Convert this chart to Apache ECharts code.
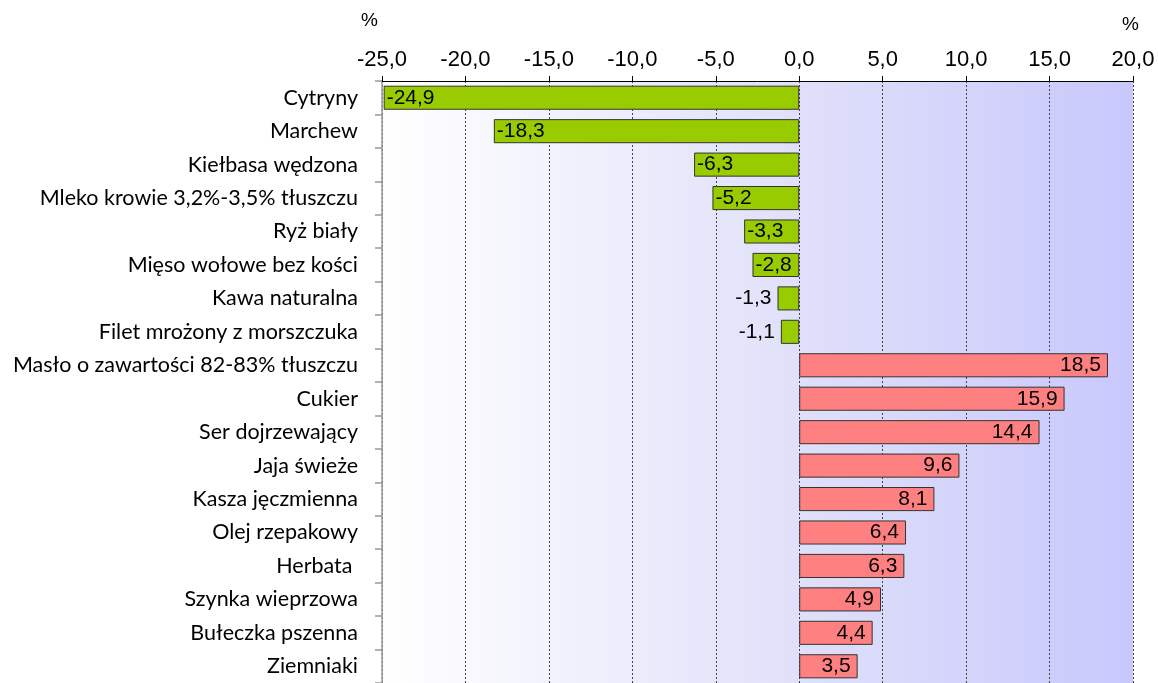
<!DOCTYPE html>
<html><head><meta charset="utf-8">
<script src="https://cdn.jsdelivr.net/npm/echarts@6/dist/echarts.min.js"></script>
<style>html,body{margin:0;padding:0;background:#fff}#c{width:1158px;height:683px}</style>
</head><body><div id="c"></div>
<script>
var categories = ["Cytryny","Marchew","Kiełbasa wędzona","Mleko krowie 3,2%-3,5% tłuszczu","Ryż biały","Mięso wołowe bez kości","Kawa naturalna","Filet mrożony z morszczuka","Masło o zawartości 82-83% tłuszczu","Cukier","Ser dojrzewający","Jaja świeże","Kasza jęczmienna","Olej rzepakowy","Herbata ","Szynka wieprzowa","Bułeczka pszenna","Ziemniaki"];
var values = [-24.9,-18.3,-6.3,-5.2,-3.3,-2.8,-1.3,-1.1,18.5,15.9,14.4,9.6,8.1,6.4,6.3,4.9,4.4,3.5];
var axisMin = -25, axisMax = 20, axisStep = 5;

function fmt(v){ return v.toFixed(1).replace('.', ','); }

var data = values.map(function(v){
  var neg = v < 0;
  var small = neg && v > -2;
  return {
    value: v,
    itemStyle: { color: neg ? '#99cc00' : '#ff8080', borderColor: '#333', borderWidth: 1 },
    label: { position: small ? 'left' : (neg ? 'insideLeft' : 'insideRight'), distance: small ? 6 : (neg ? 3 : 7) }
  };
});

var chart = echarts.init(document.getElementById('c'));
chart.setOption({
  animation: false,
  grid: { left: 382, right: 25, top: 81, bottom: -4, show: true, borderWidth: 0,
    backgroundColor: { type: 'linear', x: 0, y: 0, x2: 1, y2: 0,
      colorStops: [{offset:0,color:'#ffffff'},{offset:0.55,color:'#e0e0fa'},{offset:1,color:'#c8c8fc'}] } },
  graphic: [
    { type: 'text', left: 361, top: 11, style: { text: '%', font: '19px "Liberation Sans"', fill: '#000' } },
    { type: 'text', left: 1122, top: 15, style: { text: '%', font: '19px "Liberation Sans"', fill: '#000' } }
  ],
  xAxis: {
    type: 'value', position: 'top', min: axisMin, max: axisMax, interval: axisStep,
    axisLine: { show: true, lineStyle: { color: '#000', width: 1 } },
    axisTick: { show: true, length: 5, lineStyle: { color: '#000' } },
    axisLabel: { formatter: fmt, fontFamily: 'Liberation Sans', fontSize: 22, color: '#000', margin: 10 },
    splitLine: { show: true, lineStyle: { color: '#444', type: [2, 2], width: 1 } }
  },
  yAxis: [
    { type: 'category', data: categories, inverse: true,
      axisLine: { show: false }, axisTick: { show: false },
      axisLabel: { fontFamily: 'Lato', fontSize: 21.5, color: '#000', margin: 24 } },
    { type: 'category', data: categories, inverse: true, position: 'left',
      axisLine: { show: true, onZero: true, lineStyle: { color: '#999', width: 1.5 } },
      axisTick: { show: true, length: 7, lineStyle: { color: '#999', width: 1.5 } },
      axisLabel: { show: false } }
  ],
  series: [{
    type: 'bar', data: data, barCategoryGap: '28%',
    label: { show: true, formatter: function(p){ return fmt(p.value); },
      fontFamily: 'Liberation Sans', fontSize: 21, color: '#000' }
  }]
});
</script></body></html>
